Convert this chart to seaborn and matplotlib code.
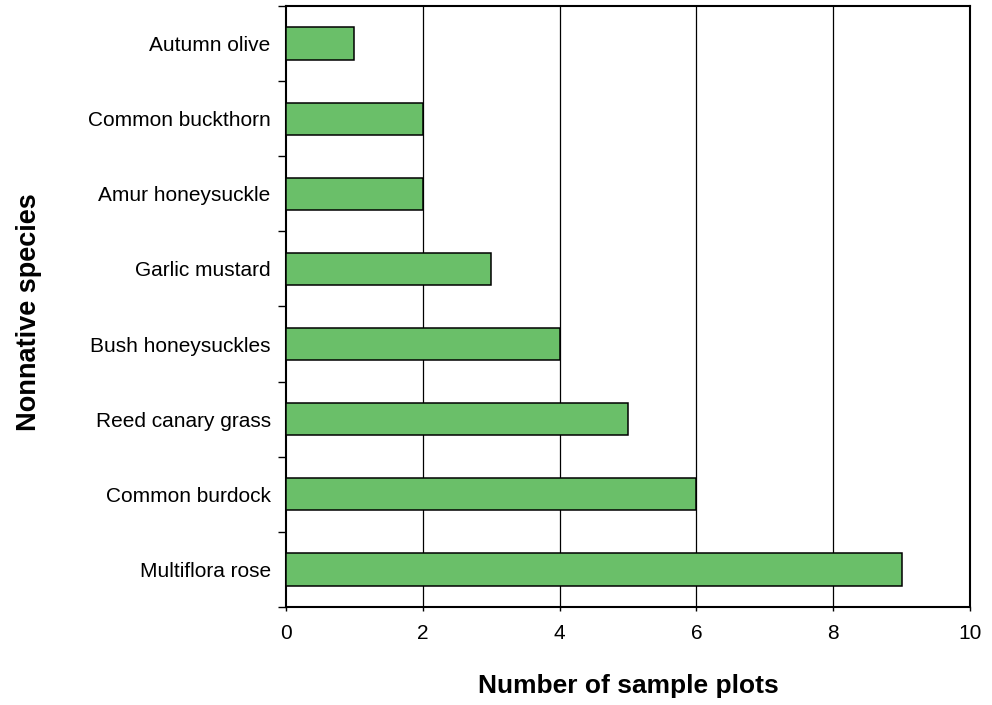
import matplotlib
matplotlib.use("Agg")
import matplotlib.pyplot as plt
import seaborn as sns
import pandas as pd
import numpy as np
from matplotlib.ticker import FixedLocator

species = ["Autumn olive", "Common buckthorn", "Amur honeysuckle", "Garlic mustard",
           "Bush honeysuckles", "Reed canary grass", "Common burdock", "Multiflora rose"]
plots = [1, 2, 2, 3, 4, 5, 6, 9]
xticks = [0, 2, 4, 6, 8, 10]

df = pd.DataFrame({"species": species, "plots": plots})

sns.set_theme(style="white")
plt.rcParams['font.family'] = ['Liberation Sans', 'DejaVu Sans']
plt.rcParams['text.color'] = 'black'
plt.rcParams['axes.labelcolor'] = 'black'
plt.rcParams['xtick.color'] = 'black'
plt.rcParams['ytick.color'] = 'black'

fig = plt.figure(figsize=(9.92, 7.05), dpi=100)
ax = fig.add_axes([0.2883, 0.139, 0.6895, 0.8525])

sns.barplot(data=df, x="plots", y="species", orient="h", color="#6abf69",
            saturation=1, width=0.43, edgecolor="black", linewidth=1.1, ax=ax, zorder=3)

ax.set_xlim(0, 10)
ax.set_ylim(len(species) - 0.5, -0.5)
ax.set_xticks(xticks)
ax.set_xticklabels([str(t) for t in xticks], fontsize=15)
ax.set_yticks(range(len(species)))
ax.set_yticklabels(species, fontsize=15)
ax.yaxis.set_minor_locator(FixedLocator(np.arange(-0.5, len(species), 1.0)))
ax.tick_params(axis="y", which="major", length=0, pad=11)
ax.tick_params(axis="y", which="minor", length=6, width=1, color="black", direction="out", left=True)
ax.tick_params(axis="x", which="major", length=3, width=1, color="black", direction="out", bottom=True, pad=9)

for x in xticks[1:-1]:
    ax.axvline(x, color="black", linewidth=0.9, zorder=1)

for s in ax.spines.values():
    s.set_color("black")
    s.set_linewidth(1.5)
    s.set_visible(True)

ax.set_xlabel("Number of sample plots", fontsize=19, fontweight="bold")
ax.set_ylabel("Nonnative species", fontsize=19.5, fontweight="bold")
ax.xaxis.set_label_coords(0.5, -0.112)
ax.yaxis.set_label_coords(-0.357, 0.49)
ax.grid(False)

fig.savefig("out.png", dpi=100)
